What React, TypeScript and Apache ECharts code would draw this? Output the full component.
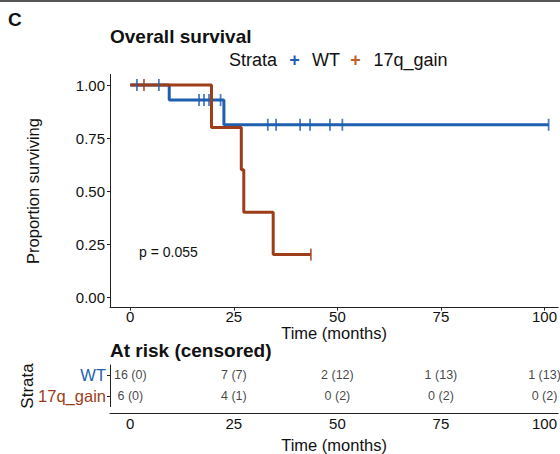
import React, { useEffect, useRef } from "react";
import * as echarts from "echarts";

const FONT = "'Liberation Sans', Arial, Helvetica, sans-serif";
const BLUE = "#1f5fb0";
const ORANGE = "#9e3d1a";

const timeTicks = [0, 25, 50, 75, 100];
const survTicks = [0, 0.25, 0.5, 0.75, 1];

const wtTime = [0, 9.4, 22.6, 101];
const wtSurv = [1, 0.929, 0.8125, 0.8125];
const wtCensorTime = [1.6, 6.9, 16.6, 17.8, 19.0, 21.8, 33.2, 35.2, 41.0, 43.4, 48.2, 51.2, 101];
const wtCensorSurv = [1, 1, 0.929, 0.929, 0.929, 0.929, 0.8125, 0.8125, 0.8125, 0.8125, 0.8125, 0.8125, 0.8125];

const gainTime = [0, 19.6, 26.8, 27.4, 34.5, 43.6];
const gainSurv = [1, 0.8, 0.6, 0.4, 0.2, 0.2];
const gainCensorTime = [3.3, 43.6];
const gainCensorSurv = [1, 0.2];

const strata = ["17q_gain", "WT"];
const wtRisk = ["16 (0)", "7 (7)", "2 (12)", "1 (13)", "1 (13)"];
const gainRisk = ["6 (0)", "4 (1)", "0 (2)", "0 (2)", "0 (2)"];

const X_MIN = -4.9;
const X_MAX = 103.3;

export default function App() {
  const ref = useRef<HTMLDivElement>(null);
  useEffect(() => {
    if (!ref.current) return;
    const chart = echarts.init(ref.current, null, { renderer: "svg" });
    const zip = (a: number[], b: number[]) => a.map((v, i) => [v, b[i]]);
    const riskData = [
      ...wtRisk.map((t, i) => [timeTicks[i], "WT", t]),
      ...gainRisk.map((t, i) => [timeTicks[i], "17q_gain", t]),
    ];
    const axisLabelBase = { fontSize: 15, color: "#111", fontFamily: FONT };
    const axisLine = { show: true, onZero: false, lineStyle: { color: "#222", width: 1 } };
    const legendFont = `18px ${FONT}`;
    const plusFont = `bold 18px ${FONT}`;
    const option: any = {
      animation: false,
      textStyle: { fontFamily: FONT },
      grid: [
        { left: 110, right: 0, top: 74.4, height: 233.2 },
        { left: 110, right: 0, top: 365, height: 49 },
      ],
      xAxis: [
        {
          gridIndex: 0,
          type: "value",
          min: X_MIN,
          max: X_MAX,
          splitLine: { show: false },
          axisLine,
          axisTick: { show: true, length: 3, customValues: timeTicks, lineStyle: { color: "#222" } },
          axisLabel: { ...axisLabelBase, customValues: timeTicks, margin: 2, lineHeight: 14 },
          name: "Time (months)",
          nameLocation: "middle",
          nameGap: 17,
          nameMoveOverlap: false,
          nameTextStyle: { fontSize: 16.5, color: "#111", fontFamily: FONT, verticalAlign: "top", lineHeight: 16 },
        },
        {
          gridIndex: 1,
          type: "value",
          min: X_MIN,
          max: X_MAX,
          offset: 7,
          splitLine: { show: false },
          axisLine,
          axisTick: { show: false },
          axisLabel: { ...axisLabelBase, customValues: timeTicks, margin: 3, lineHeight: 14 },
          name: "Time (months)",
          nameLocation: "middle",
          nameGap: 23,
          nameMoveOverlap: false,
          nameTextStyle: { fontSize: 16.5, color: "#111", fontFamily: FONT, verticalAlign: "top", lineHeight: 16 },
        },
      ],
      yAxis: [
        {
          gridIndex: 0,
          type: "value",
          min: -0.05,
          max: 1.05,
          splitLine: { show: false },
          axisLine,
          axisTick: { show: true, length: 3, customValues: survTicks, lineStyle: { color: "#222" } },
          axisLabel: {
            ...axisLabelBase,
            customValues: survTicks,
            formatter: (v: number) => v.toFixed(2),
            margin: 5,
          },
          name: "Proportion surviving",
          nameLocation: "middle",
          nameGap: 69,
          nameMoveOverlap: false,
          nameTextStyle: { fontSize: 16.5, color: "#111", fontFamily: FONT },
        },
        {
          gridIndex: 1,
          type: "category",
          data: strata,
          splitLine: { show: false },
          axisLine,
          axisTick: { show: true, length: 3, alignWithLabel: true, lineStyle: { color: "#222" } },
          axisLabel: {
            margin: 4,
            fontFamily: FONT,
            formatter: (v: string) => (v === "WT" ? "{wt|WT}" : "{g|17q_gain}"),
            rich: {
              wt: { color: BLUE, fontSize: 16.5, fontFamily: FONT },
              g: { color: ORANGE, fontSize: 16.5, fontFamily: FONT },
            },
          },
        },
      ],
      series: [
        {
          type: "line",
          xAxisIndex: 0,
          yAxisIndex: 0,
          step: "end",
          data: zip(wtTime, wtSurv),
          showSymbol: false,
          symbol: "none",
          lineStyle: { color: BLUE, width: 3 },
          z: 2,
        },
        {
          type: "line",
          xAxisIndex: 0,
          yAxisIndex: 0,
          step: "end",
          data: zip(gainTime, gainSurv),
          showSymbol: false,
          symbol: "none",
          lineStyle: { color: ORANGE, width: 3 },
          z: 3,
        },
        {
          type: "scatter",
          xAxisIndex: 0,
          yAxisIndex: 0,
          data: zip(wtCensorTime, wtCensorSurv),
          symbol: "rect",
          symbolSize: [1.8, 12],
          itemStyle: { color: BLUE },
          z: 4,
        },
        {
          type: "scatter",
          xAxisIndex: 0,
          yAxisIndex: 0,
          data: zip(gainCensorTime, gainCensorSurv),
          symbol: "rect",
          symbolSize: [1.8, 12],
          itemStyle: { color: ORANGE },
          z: 4,
        },
        {
          type: "scatter",
          xAxisIndex: 1,
          yAxisIndex: 1,
          data: riskData,
          symbol: "circle",
          symbolSize: 1,
          itemStyle: { color: "rgba(0,0,0,0)", borderWidth: 0 },
          label: {
            show: true,
            position: "inside",
            formatter: (p: any) => p.value[2],
            fontSize: 12.5,
            color: "#111",
            fontFamily: FONT,
          },
        },
      ],
      graphic: [
        { type: "rect", shape: { x: 0, y: 0, width: 560, height: 2 }, style: { fill: "#555" } },
        {
          type: "text",
          x: 8,
          y: 10,
          style: { text: "C", font: `bold 19px ${FONT}`, fill: "#111" },
        },
        {
          type: "text",
          x: 110,
          y: 27,
          style: { text: "Overall survival", font: `bold 19px ${FONT}`, fill: "#111" },
        },
        { type: "text", x: 229, y: 60, style: { text: "Strata", font: legendFont, fill: "#111", verticalAlign: "middle" } },
        { type: "text", x: 294.5, y: 60, style: { text: "+", font: plusFont, fill: BLUE, align: "center", verticalAlign: "middle" } },
        { type: "text", x: 312, y: 60, style: { text: "WT", font: legendFont, fill: "#111", verticalAlign: "middle" } },
        { type: "text", x: 355.5, y: 60, style: { text: "+", font: plusFont, fill: "#c0602a", align: "center", verticalAlign: "middle" } },
        { type: "text", x: 373.5, y: 60, style: { text: "17q_gain", font: legendFont, fill: "#111", verticalAlign: "middle" } },
        {
          type: "text",
          x: 139,
          y: 245,
          style: { text: "p = 0.055", font: `14px ${FONT}`, fill: "#111" },
        },
        {
          type: "text",
          x: 110,
          y: 341,
          style: { text: "At risk (censored)", font: `bold 19px ${FONT}`, fill: "#111" },
        },
        {
          type: "text",
          x: 27,
          y: 386,
          rotation: Math.PI / 2,
          style: {
            text: "Strata",
            font: `17px ${FONT}`,
            fill: "#111",
            align: "center",
            verticalAlign: "middle",
          },
        },
      ],
    };
    chart.setOption(option);
    return () => chart.dispose();
  }, []);
  return (
    <div
      ref={ref}
      style={{ position: "fixed", left: 0, top: 0, width: 560, height: 454, background: "#fff" }}
    />
  );
}
